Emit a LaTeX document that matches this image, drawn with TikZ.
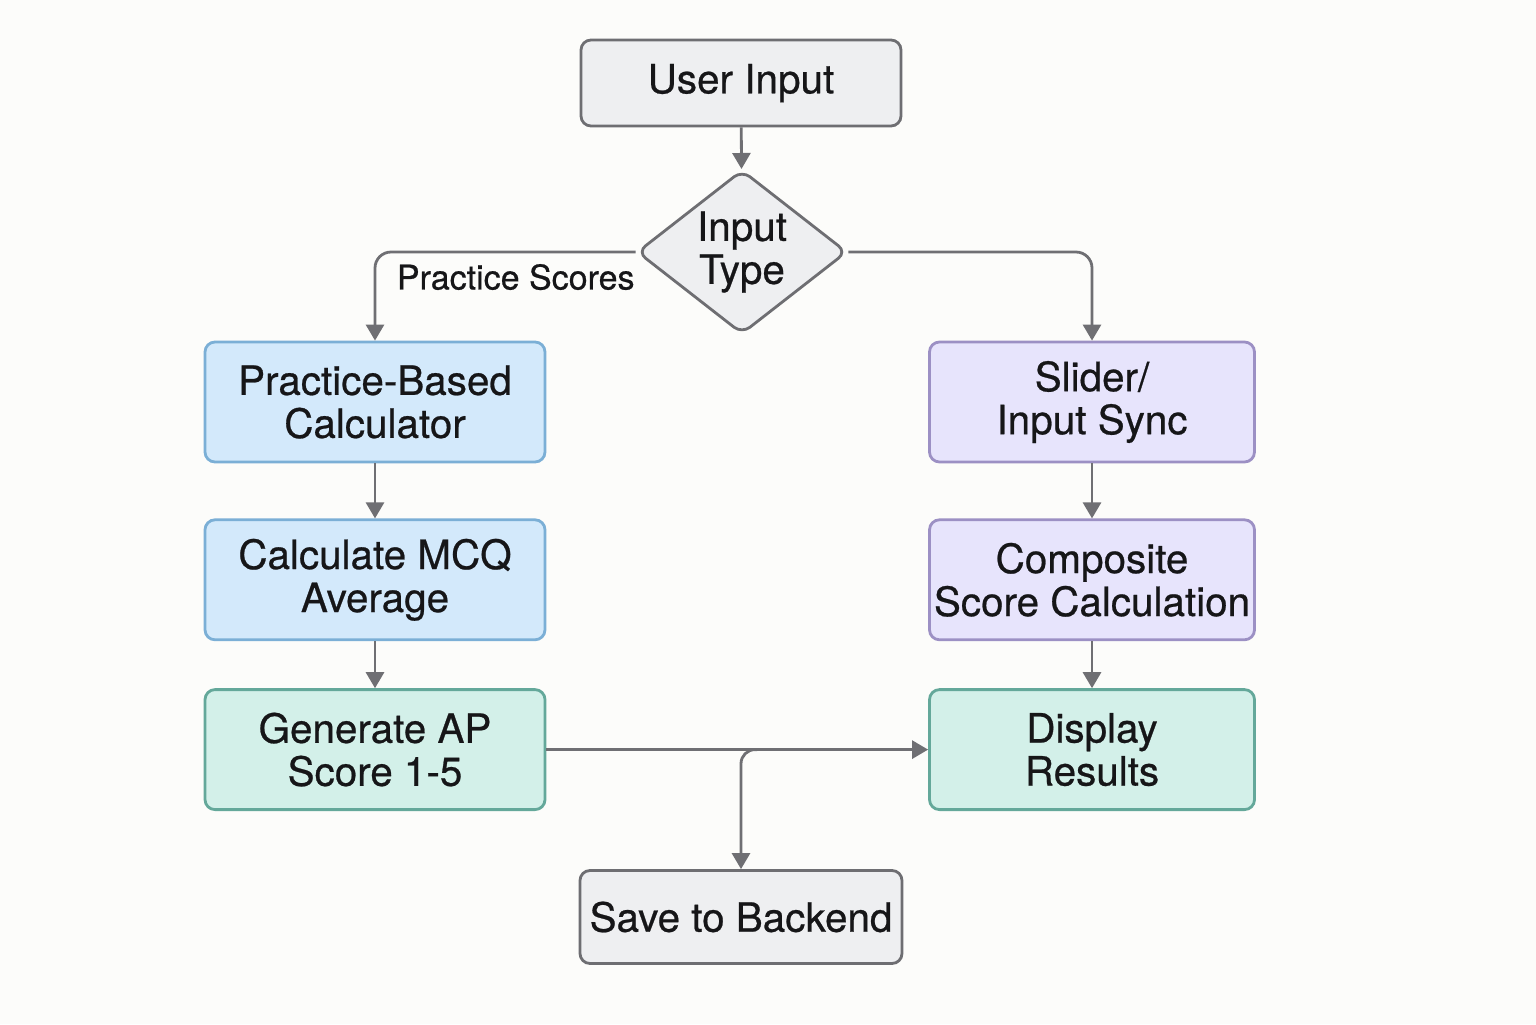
\documentclass[tikz,border=0pt]{standalone}
\usepackage{fontspec}
\setmainfont{TeX Gyre Heros}[FakeBold=0.6]
\usetikzlibrary{calc,positioning,shapes.geometric,arrows.meta}

\definecolor{bgcol}{HTML}{FCFCFA}
\definecolor{linecol}{HTML}{6F6F73}
\definecolor{textcol}{HTML}{161618}
\definecolor{grayfill}{HTML}{EEEFF1}
\definecolor{graydraw}{HTML}{6E6E72}
\definecolor{bluefill}{HTML}{D3E9FB}
\definecolor{bluedraw}{HTML}{7BAFD6}
\definecolor{purpfill}{HTML}{E7E4FC}
\definecolor{purpdraw}{HTML}{9C90C4}
\definecolor{greenfill}{HTML}{D3F0E9}
\definecolor{greendraw}{HTML}{64A89A}

\begin{document}
\begin{tikzpicture}[
    x=0.5pt, y=-0.5pt,
    align=center,
    font=\fontsize{20.2}{21.5}\selectfont,
    text=textcol,
    base/.style={rectangle, rounded corners=5pt, line width=1.4pt, minimum width=170pt, minimum height=60pt},
    io/.style={base, fill=grayfill, draw=graydraw, minimum width=160pt},
    prac/.style={base, fill=bluefill, draw=bluedraw},
    slid/.style={base, fill=purpfill, draw=purpdraw, minimum width=162.5pt, inner xsep=0.5pt},
    outc/.style={base, fill=greenfill, draw=greendraw},
    decide/.style={diamond, rounded corners=5pt, line width=1.4pt, fill=grayfill, draw=graydraw,
                   minimum width=105pt, minimum height=82pt, inner sep=0pt},
    dep/.style={linecol, line width=1.4pt, -{Triangle[length=8pt,width=9pt]}}
  ]

  \useasboundingbox [fill=bgcol] (0,0) rectangle (1536,1024);

  \node (input)     [io, minimum height=43pt] at (741,83)   {User Input};

  \node (type)      [decide, label={center:Input\\Type}] at (742,252) {};

  \node (practice)  [prac] at (375,402)                     {Practice-Based\\Calculator};
  \node (mcq)       [prac, below=27.5pt of practice]        {Calculate MCQ\\Average};
  \node (apscore)   [outc, below=23.5pt of mcq]             {Generate AP\\Score 1-5};

  \node (slider)    [slid] at (1092,402)                    {Slider/\\Input Sync};
  \node (composite) [slid, below=27.5pt of slider]          {Composite\\Score Calculation};
  \node (display)   [slid, outc, minimum width=162.5pt, below=23.5pt of composite]
                                                            {Display\\Results};

  \node (backend)   [io, minimum width=161pt, minimum height=46.5pt] at (741,917)
                                                            {Save to Backend};

  \coordinate (split) at ($(apscore.east -| backend.north)+(16,0)$);

  \draw[dep]  (input)       --                    (type);

  \draw[dep, rounded corners=8pt]
              (type.west)   -| node [pos=0.23, below=2pt, text=textcol, font=\fontsize{17}{20}\selectfont]
                                 {Practice Scores}  (practice.north);
  \draw[dep, rounded corners=8pt]
              (type.east)   -|                    (slider.north);

  \draw[dep]  (practice)    --                    (mcq);
  \draw[dep]  (mcq)         --                    (apscore);
  \draw[dep]  (slider)      --                    (composite);
  \draw[dep]  (composite)   --                    (display);

  \draw[dep]  (apscore.east) --                   (display.west);
  \draw[dep, rounded corners=7pt]
              (split)       -|                    (backend.north);
\end{tikzpicture}
\end{document}
